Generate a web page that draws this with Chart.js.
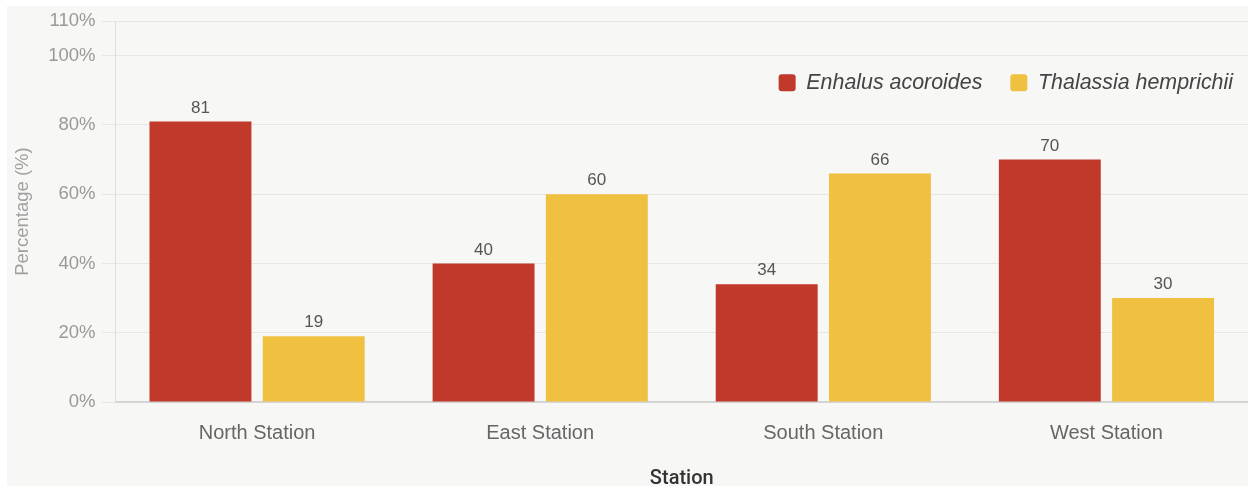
<!DOCTYPE html>
<html lang="en">
<head>
    <meta charset="UTF-8">
    <title>Seagrass Species Composition by Station</title>
    <script src="https://cdn.jsdelivr.net/npm/chart.js"></script>
    <style>
        html, body {
            margin: 0;
            padding: 0;
            background: #ffffff;
            overflow: hidden;
        }
        .card {
            position: absolute;
            left: 7px;
            top: 6px;
            width: 1241px;
            height: 485px;
            background: #f7f7f5;
        }
        .chart-box {
            position: relative;
            top: -2px;
            height: 487px;
        }
    </style>
</head>
<body>
    <div class="card">
        <div class="chart-box">
            <canvas id="speciesChart"></canvas>
        </div>
    </div>

    <script>
        // Chart data
        const stations = ['North Station', 'East Station', 'South Station', 'West Station'];
        const enhalus = [81, 40, 34, 70];
        const thalassia = [19, 60, 66, 30];
        const speciesNames = ['Enhalus acoroides', 'Thalassia hemprichii'];
        const speciesColors = ['#c0392b', '#f0c040'];

        const FONT = "'Liberation Sans', Arial, sans-serif";

        // Draw the value above each bar
        const valueLabels = {
            id: 'valueLabels',
            afterDatasetsDraw(chart) {
                const ctx = chart.ctx;
                ctx.save();
                ctx.font = '17px ' + FONT;
                ctx.fillStyle = '#555555';
                ctx.textAlign = 'center';
                ctx.textBaseline = 'bottom';
                chart.data.datasets.forEach((ds, i) => {
                    chart.getDatasetMeta(i).data.forEach((bar, j) => {
                        ctx.fillText(ds.data[j], bar.x, bar.y - 5);
                    });
                });
                ctx.restore();
            }
        };

        // Legend floats over the plot area: take no layout space, then move it
        const legendFloat = {
            id: 'legendFloat',
            beforeLayout(chart) {
                const l = chart.legend;
                if (l && !l._floatPatched) {
                    const fit = l.fit.bind(l);
                    l.fit = function () { fit(); this.height = 0; };
                    l._floatPatched = true;
                }
            },
            afterLayout(chart) {
                const l = chart.legend;
                l.top += 23;
                l.height = 80;
                l.bottom = l.top + l.height;
                l.left += 13;
                l.right += 13;
            }
        };

        new Chart(document.getElementById('speciesChart'), {
            type: 'bar',
            data: {
                labels: stations,
                datasets: [
                    {
                        label: speciesNames[0],
                        data: enhalus,
                        backgroundColor: speciesColors[0]
                    },
                    {
                        label: speciesNames[1],
                        data: thalassia,
                        backgroundColor: speciesColors[1]
                    }
                ]
            },
            options: {
                responsive: true,
                maintainAspectRatio: false,
                animation: false,
                layout: {
                    padding: { top: 0, left: 5, right: 0, bottom: 0 }
                },
                plugins: {
                    legend: {
                        position: 'top',
                        align: 'end',
                        labels: {
                            boxWidth: 17,
                            boxHeight: 17,
                            useBorderRadius: true,
                            borderRadius: 3,
                            padding: 28,
                            color: '#444444',
                            font: { family: FONT, size: 21.4, style: 'italic' }
                        }
                    },
                    tooltip: { enabled: false }
                },
                scales: {
                    x: {
                        grid: { display: false },
                        border: { color: '#d4d4d2', width: 2 },
                        ticks: {
                            color: '#666666',
                            padding: 11,
                            font: { family: FONT, size: 20 }
                        },
                        title: {
                            display: true,
                            text: 'Station',
                            color: '#333333',
                            padding: { top: 11, bottom: 0 },
                            font: { family: "Roboto, sans-serif", size: 20, weight: '500' }
                        }
                    },
                    y: {
                        min: 0,
                        max: 110,
                        grid: { color: '#e6e6e4', tickLength: 14 },
                        border: { color: '#dededc' },
                        ticks: {
                            stepSize: 20,
                            color: '#999999',
                            padding: 6,
                            font: { family: FONT, size: 18.5 },
                            callback: v => v + '%'
                        },
                        title: {
                            display: true,
                            text: 'Percentage (%)',
                            color: '#a0a0a0',
                            padding: { top: 0, bottom: 8 },
                            font: { family: FONT, size: 18.5 }
                        }
                    }
                }
            },
            plugins: [valueLabels, legendFloat]
        });
    </script>
</body>
</html>
